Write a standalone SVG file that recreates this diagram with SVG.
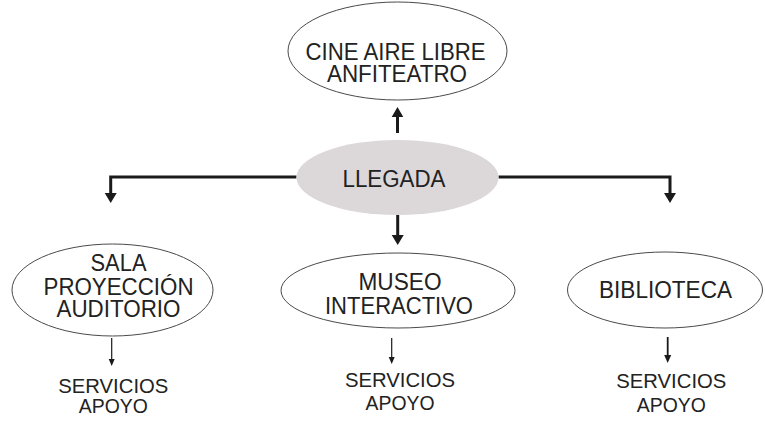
<svg xmlns="http://www.w3.org/2000/svg" width="765" height="421" viewBox="0 0 765 421">
<style>
.node ellipse{fill:#fff;stroke:#4a4a4a;stroke-width:1}
.node ellipse.main{fill:#dcd7d9;stroke:none}
text{font-family:"Liberation Sans",Arial,sans-serif;fill:#222;text-anchor:middle}
.t{font-size:23.5px}
.s{font-size:21px}
.thick{stroke:#1a1a1a;stroke-width:3;fill:none}
.thin{stroke:#1a1a1a;stroke-width:1.2;fill:none}
.mid{stroke:#1a1a1a;stroke-width:1.8;fill:none}
.head{fill:#1a1a1a}
</style>
<rect width="765" height="421" fill="#fff"/>
<g id="connectors">
<path class="thick" d="M296.5 177 H110.7 V194"/>
<polygon class="head" points="104.7,193 116.7,193 110.7,203"/>
<path class="thick" d="M498.5 177 H670 V194"/>
<polygon class="head" points="664,193 676,193 670,203"/>
<path class="thick" d="M397.5 133 V116"/>
<polygon class="head" points="391.7,117 403.3,117 397.5,107"/>
<path class="thick" d="M397.7 215 V236"/>
<polygon class="head" points="391.7,235 403.7,235 397.7,245"/>
<path class="thin" d="M111.7 338 V360"/>
<polygon class="head" points="108.7,359 114.7,359 111.7,366"/>
<path class="thin" d="M391.7 338 V358"/>
<polygon class="head" points="388.7,357 394.7,357 391.7,364"/>
<path class="mid" d="M667.7 337 V356"/>
<polygon class="head" points="664.2,355 671.2,355 667.7,363"/>
</g>
<g id="cine" class="node">
<ellipse cx="397.5" cy="51" rx="109.5" ry="49"/>
<text class="t" x="395.5" y="60" textLength="180" lengthAdjust="spacingAndGlyphs">CINE AIRE LIBRE</text>
<text class="t" x="397" y="81.5" textLength="140" lengthAdjust="spacingAndGlyphs">ANFITEATRO</text>
</g>
<g id="llegada" class="node">
<ellipse class="main" cx="397.5" cy="177.5" rx="101" ry="37.5"/>
<text class="t" x="394" y="187" textLength="103" lengthAdjust="spacingAndGlyphs">LLEGADA</text>
</g>
<g id="sala" class="node">
<ellipse cx="112.5" cy="290" rx="100.5" ry="46"/>
<text class="t" x="118.5" y="271" textLength="56" lengthAdjust="spacingAndGlyphs">SALA</text>
<text class="t" x="118.5" y="295" textLength="150" lengthAdjust="spacingAndGlyphs">PROYECCIÓN</text>
<text class="t" x="118.5" y="317" textLength="124" lengthAdjust="spacingAndGlyphs">AUDITORIO</text>
</g>
<g id="museo" class="node">
<ellipse cx="398" cy="290.5" rx="117" ry="37.5"/>
<text class="t" x="400" y="289.5" textLength="83" lengthAdjust="spacingAndGlyphs">MUSEO</text>
<text class="t" x="399" y="314" textLength="148" lengthAdjust="spacingAndGlyphs">INTERACTIVO</text>
</g>
<g id="biblioteca" class="node">
<ellipse cx="665" cy="290" rx="97.5" ry="38"/>
<text class="t" x="665.5" y="298" textLength="133" lengthAdjust="spacingAndGlyphs">BIBLIOTECA</text>
</g>
<g id="serv1" class="node">
<text class="s" x="113.3" y="393" textLength="110" lengthAdjust="spacingAndGlyphs">SERVICIOS</text>
<text class="s" x="113.3" y="413" textLength="69" lengthAdjust="spacingAndGlyphs">APOYO</text>
</g>
<g id="serv2" class="node">
<text class="s" x="400" y="387" textLength="110" lengthAdjust="spacingAndGlyphs">SERVICIOS</text>
<text class="s" x="400" y="410" textLength="69" lengthAdjust="spacingAndGlyphs">APOYO</text>
</g>
<g id="serv3" class="node">
<text class="s" x="671.3" y="388.3" textLength="110" lengthAdjust="spacingAndGlyphs">SERVICIOS</text>
<text class="s" x="671.3" y="411.5" textLength="69" lengthAdjust="spacingAndGlyphs">APOYO</text>
</g>
</svg>
